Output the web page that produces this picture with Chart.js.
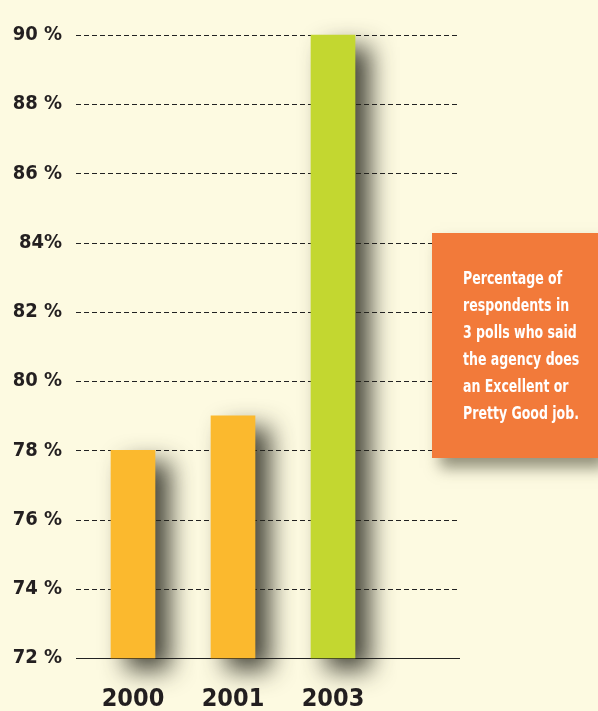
<!DOCTYPE html>
<html lang="en">
<head>
  <meta charset="UTF-8">
  <title>Agency job rating polls</title>
  <script src="https://cdn.jsdelivr.net/npm/chart.js"></script>
  <style>
    body {
      margin: 0;
      background: #FDFAE1;
    }
    #wrap {
      position: relative;
      width: 598px;
      height: 711px;
      overflow: hidden;
    }
    canvas {
      display: block;
    }
    #note {
      position: absolute;
      left: 432px;
      top: 233px;
      width: 166px;
      height: 225px;
      box-sizing: border-box;
      padding: 32px 0 0 31px;
      background: #F27A3A;
      box-shadow: 8px 10px 14px rgba(60, 60, 40, 0.55);
    }
    #note div {
      color: #fff;
      font-family: "Liberation Sans Narrow", "DejaVu Sans Condensed", sans-serif;
      font-weight: bold;
      font-size: 17px;
      line-height: 27px;
      white-space: pre;
      transform: scaleX(0.82);
      transform-origin: 0 0;
    }
  </style>
</head>
<body>
  <div id="wrap">
    <canvas id="pollChart" width="598" height="711"></canvas>
    <div id="note"><div>Percentage of
respondents in
3 polls who said
the agency does
an Excellent or
Pretty Good job.</div></div>
  </div>

  <script>
    // poll years and share of respondents (percent)
    const years = ['2000', '2001', '2003'];
    const ratings = [78, 79, 90];
    const barColors = ['#FBB92E', '#FBB92E', '#C3D730'];

    // y axis labels as printed
    const tickValues = [72, 74, 76, 78, 80, 82, 84, 86, 88, 90];
    const tickLabels = ['72 %', '74 %', '76 %', '78 %', '80 %', '82 %', '84%', '86 %', '88 %', '90 %'];

    const FONT = '"Liberation Sans Narrow", "DejaVu Sans Condensed", sans-serif';

    // dashed grid running under the bars and past the plot
    const gridPlugin = {
      id: 'dashGrid',
      beforeDatasetsDraw(chart) {
        const ctx = chart.ctx;
        const y = chart.scales.y;
        ctx.save();
        ctx.strokeStyle = '#222';
        ctx.lineWidth = 1;
        tickValues.forEach(v => {
          const py = Math.round(y.getPixelForValue(v)) + 0.5;
          ctx.setLineDash(v === 72 ? [] : [5, 3]);
          ctx.beginPath();
          ctx.moveTo(76, py);
          ctx.lineTo(460, py);
          ctx.stroke();
        });
        ctx.restore();
        // soft shadow for the bars
        ctx.save();
        ctx.shadowColor = 'rgba(40, 40, 30, 0.85)';
        ctx.shadowBlur = 24;
        ctx.shadowOffsetX = 15;
        ctx.shadowOffsetY = 12;
      },
      afterDatasetsDraw(chart) {
        chart.ctx.restore();
      }
    };

    const ctx = document.getElementById('pollChart').getContext('2d');
    new Chart(ctx, {
      type: 'bar',
      data: {
        labels: years,
        datasets: [{
          data: ratings,
          backgroundColor: barColors,
          borderWidth: 0,
          barThickness: 44,
          base: 72,
          clip: false
        }]
      },
      options: {
        responsive: false,
        animation: false,
        layout: { padding: { left: 0, right: 215, top: 35, bottom: 0 } },
        plugins: {
          legend: { display: false },
          tooltip: { enabled: false }
        },
        scales: {
          x: {
            grid: { display: false, drawTicks: false },
            border: { display: false },
            ticks: {
              padding: 26,
              color: '#231F20',
              font: { family: FONT, size: 25, weight: 'bold' }
            },
            afterFit(scale) { scale.height = 53; }
          },
          y: {
            min: 72,
            max: 90,
            grid: { display: false, drawTicks: false },
            border: { display: false },
            ticks: {
              stepSize: 2,
              padding: 21,
              color: '#231F20',
              font: { family: FONT, size: 20, weight: 'bold' },
              callback: v => tickLabels[tickValues.indexOf(v)]
            },
            afterFit(scale) { scale.width = 83; }
          }
        }
      },
      plugins: [gridPlugin]
    });
  </script>
</body>
</html>
